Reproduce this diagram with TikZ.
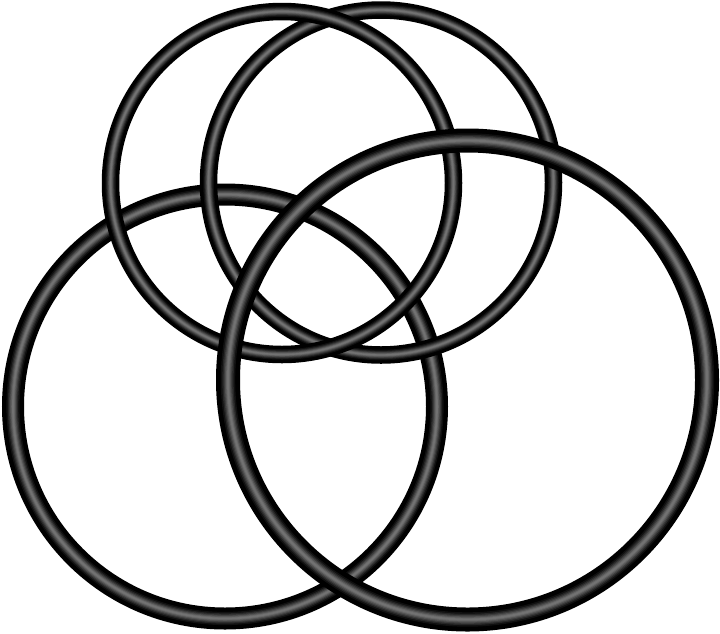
\documentclass[tikz,border=0pt]{standalone}
\begin{document}
\begin{tikzpicture}
\definecolor{shadeA}{HTML}{101010}
\definecolor{shadeB}{HTML}{262626}
\definecolor{shadeC}{HTML}{3C3C3C}
\definecolor{shadeD}{HTML}{525252}
\definecolor{shadeE}{HTML}{666666}
\definecolor{shadeF}{HTML}{727272}
\tikzset{ringbase/.style={draw=black}}
\useasboundingbox[fill=white] (0pt,0pt) rectangle (720pt,-633pt);
% stacking order (bottom to top): lower-left ring, upper-right ring, upper-left ring, lower-right ring
\foreach \cx/\cy/\r/\w in {225/406.5/212/22, 381/182.5/172.5/17.5, 282/183/171.5/17.5, 467.5/380/239.5/24}{
  \draw[ringbase, line width=\w pt] (\cx pt,-\cy pt) circle (\r pt);
  \draw[draw=shadeA, line width={0.60*\w pt}] (\cx pt,-\cy pt) circle (\r pt);
  \draw[draw=shadeB, line width={0.47*\w pt}] (\cx pt,-\cy pt) circle (\r pt);
  \draw[draw=shadeC, line width={0.36*\w pt}] (\cx pt,-\cy pt) circle (\r pt);
  \draw[draw=shadeD, line width={0.26*\w pt}] (\cx pt,-\cy pt) circle (\r pt);
  \draw[draw=shadeE, line width={0.16*\w pt}] (\cx pt,-\cy pt) circle (\r pt);
  \draw[draw=shadeF, line width={0.08*\w pt}] (\cx pt,-\cy pt) circle (\r pt);
}
\end{tikzpicture}
\end{document}
